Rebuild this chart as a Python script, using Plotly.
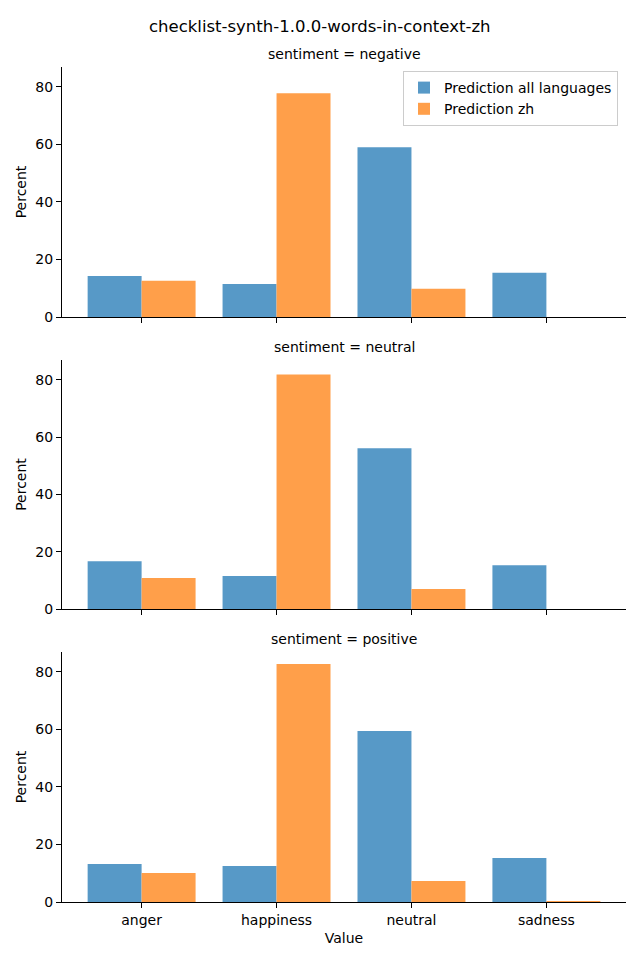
import plotly.graph_objects as go

categories = ["anger", "happiness", "neutral", "sadness"]
sentiments = ["negative", "neutral", "positive"]
series_names = ["Prediction all languages", "Prediction zh"]

all_negative = [14.3, 11.5, 59.0, 15.4]
zh_negative = [12.6, 77.8, 9.8, 0.0]
all_neutral = [16.7, 11.5, 56.1, 15.3]
zh_neutral = [10.8, 81.9, 7.0, 0.0]
all_positive = [13.2, 12.5, 59.5, 15.3]
zh_positive = [10.1, 82.8, 7.3, 0.3]

y_ticks = [0, 20, 40, 60, 80]

panel_data = {
    "negative": (all_negative, zh_negative),
    "neutral": (all_neutral, zh_neutral),
    "positive": (all_positive, zh_positive),
}

colors = ["#5799c7", "#ff9f4a"]
W, H = 640, 960
FONT = "DejaVu Sans"

# pixel extents of each panel (top, bottom)
panels_px = [(67, 317), (360, 609), (652, 902)]
x_left, x_right = 62, 626

fig = go.Figure()
layout = dict(
    width=W, height=H,
    margin=dict(l=0, r=0, t=0, b=0),
    paper_bgcolor="white", plot_bgcolor="white",
    barmode="group", bargap=0.2, bargroupgap=0,
    font=dict(family=FONT, size=14, color="black"),
    showlegend=True,
)

annotations = []
for i, s in enumerate(sentiments):
    idx = "" if i == 0 else str(i + 1)
    xa, ya = "x" + idx, "y" + idx
    vals_all, vals_zh = panel_data[s]
    for j, (name, vals) in enumerate(zip(series_names, [vals_all, vals_zh])):
        fig.add_trace(go.Bar(
            x=categories, y=vals, name=name,
            marker=dict(color=colors[j], line=dict(width=0)),
            xaxis=xa, yaxis=ya, showlegend=(i == 0),
            legendgroup=name,
        ))
    top, bot = panels_px[i]
    layout["xaxis" + idx] = dict(
        domain=[x_left / W, x_right / W],
        anchor=ya, range=[-0.59, 3.59], automargin=False,
        showline=True, linecolor="black", linewidth=1,
        ticks="outside", ticklen=5, tickwidth=1, tickcolor="black",
        showticklabels=(i == 2), showgrid=False, zeroline=False,
        tickfont=dict(size=14, family=FONT),
        categoryorder="array", categoryarray=categories,
    )
    layout["yaxis" + idx] = dict(
        domain=[1 - bot / H, 1 - top / H],
        anchor=xa, range=[0, 86.94], automargin=False,
        showline=True, linecolor="black", linewidth=1,
        ticks="outside", ticklen=5, tickwidth=1, tickcolor="black",
        tickvals=y_ticks, showgrid=False, zeroline=False,
        tickfont=dict(size=14, family=FONT),
        title=dict(text="Percent", font=dict(size=14, family=FONT), standoff=5),
    )
    annotations.append(dict(
        text=f"sentiment = {s}", x=(x_left + x_right) / 2 / W, y=1 - (top - 3) / H,
        xref="paper", yref="paper", xanchor="center", yanchor="bottom",
        showarrow=False, font=dict(size=14, family=FONT),
    ))

layout["xaxis3"]["title"] = dict(text="Value", font=dict(size=14, family=FONT), standoff=6)

annotations.append(dict(
    text="checklist-synth-1.0.0-words-in-context-zh",
    x=0.5, y=1 - 27 / H, xref="paper", yref="paper",
    xanchor="center", yanchor="middle", showarrow=False,
    font=dict(size=16.5, family=FONT),
))
layout["annotations"] = annotations
layout["legend"] = dict(
    x=403 / W, y=1 - 71 / H, xanchor="left", yanchor="top",
    bgcolor="rgba(255,255,255,0.8)", bordercolor="#cccccc", borderwidth=1,
    font=dict(size=14, family=FONT), tracegroupgap=0,
)
fig.update_layout(**layout)
fig.write_html("out.html", config={"displayModeBar": False},
               post_script="document.body.style.margin='0';")
